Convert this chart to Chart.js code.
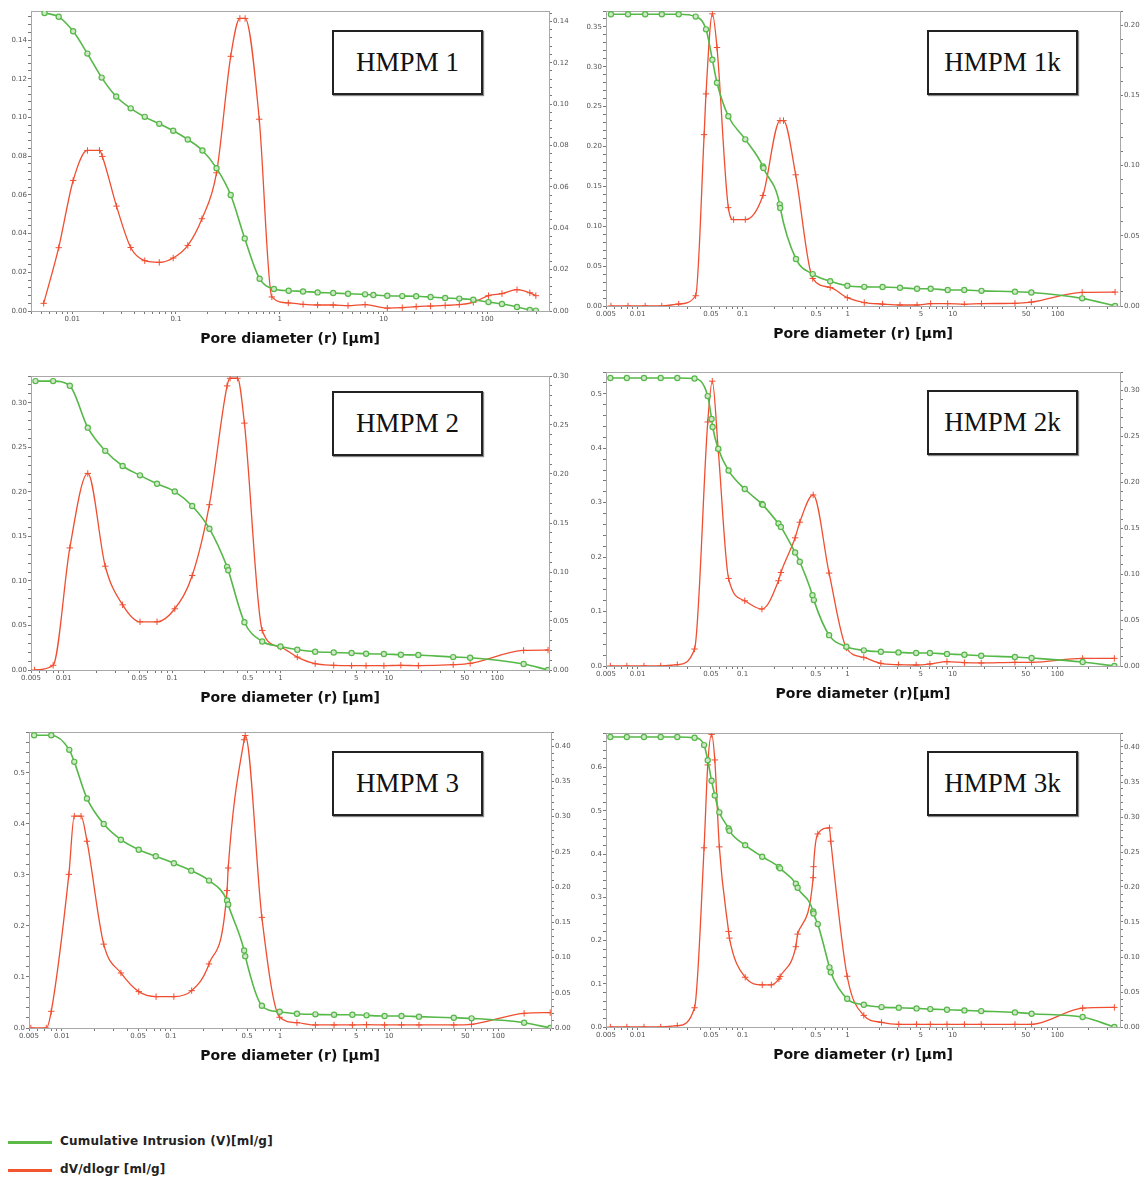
<!DOCTYPE html>
<html>
<head>
<meta charset="utf-8">
<script src="https://cdn.jsdelivr.net/npm/chart.js@4.4.1/dist/chart.umd.min.js"></script>
<style>
  body { margin: 0; background: #fff; width: 1142px; height: 1180px; overflow: hidden; position: relative; font-family: 'DejaVu Sans', sans-serif; }
  canvas { position: absolute; }
  .tag { position: absolute; box-sizing: border-box; width: 151px; height: 65px; border: 2px solid #222; box-shadow: 1px 1px 1px #888;
         font-family: 'Liberation Serif', serif; font-size: 27px; color: #111; background: #fff;
         display: flex; align-items: center; justify-content: center; }
  .lg-line { position: absolute; left: 8px; width: 44px; height: 3px; }
  .lg-text { position: absolute; left: 60px; font-size: 12px; letter-spacing: 0.2px; font-weight: bold; color: #222; }
</style>
</head>
<body>

<div class="tag" style="left:332px;top:30px">HMPM 1</div>
<div class="tag" style="left:927px;top:30px">HMPM 1k</div>
<div class="tag" style="left:332px;top:391px">HMPM 2</div>
<div class="tag" style="left:927px;top:390px">HMPM 2k</div>
<div class="tag" style="left:332px;top:751px">HMPM 3</div>
<div class="tag" style="left:927px;top:751px">HMPM 3k</div>

<div class="lg-line" style="top:1141px;background:#5cba47"></div>
<div class="lg-text" style="top:1134px">Cumulative Intrusion (V)[ml/g]</div>
<div class="lg-line" style="top:1169px;background:#f2552f"></div>
<div class="lg-text" style="top:1162px">dV/dlogr [ml/g]</div>

<script>
// Màu hai đường
const GREEN = '#56b848';
const RED = '#f04e30';

// Nhãn trục x (log)
const xLabelsFull = [0.005, 0.01, 0.05, 0.1, 0.5, 1, 5, 10, 50, 100];
const xLabelsDecades = [0.01, 0.1, 1, 10, 100];

// HMPM 1
const hmpm1CumX = [0.0054, 0.0074, 0.0102, 0.014, 0.0192, 0.0265, 0.0366, 0.05, 0.069, 0.094, 0.13, 0.18, 0.246, 0.337, 0.46, 0.64, 0.88, 1.22, 1.68, 2.32, 3.28, 4.56, 6.66, 8.0, 10.9, 15.2, 20.7, 28.5, 39.4, 53.9, 73.6, 103, 139, 194, 258, 295];
const hmpm1CumY = [0.154, 0.152, 0.1445, 0.133, 0.1206, 0.1108, 0.1047, 0.1003, 0.0967, 0.0931, 0.0886, 0.0829, 0.0738, 0.0599, 0.0375, 0.0167, 0.0114, 0.0105, 0.0101, 0.0096, 0.0093, 0.0089, 0.0086, 0.0083, 0.0079, 0.0077, 0.0076, 0.0072, 0.0067, 0.0064, 0.0058, 0.0046, 0.0036, 0.0021, 0.0005, 0.0002];
const hmpm1DvX = [0.0053, 0.0074, 0.0102, 0.014, 0.0183, 0.0195, 0.0267, 0.0366, 0.05, 0.069, 0.094, 0.13, 0.178, 0.246, 0.337, 0.413, 0.464, 0.635, 0.84, 1.21, 1.68, 2.32, 3.28, 4.56, 6.66, 10.9, 15.2, 20.7, 28.5, 39.4, 53.9, 73.6, 103, 139, 194, 258, 295];
const hmpm1DvY = [0.0037, 0.0306, 0.0631, 0.0776, 0.0776, 0.0747, 0.0507, 0.0307, 0.0243, 0.0235, 0.0256, 0.0317, 0.0446, 0.0668, 0.1231, 0.1414, 0.1414, 0.0927, 0.0068, 0.0039, 0.0032, 0.0029, 0.0029, 0.0026, 0.0031, 0.0014, 0.0016, 0.0021, 0.0024, 0.0027, 0.0031, 0.0042, 0.0074, 0.0084, 0.0103, 0.0088, 0.0074];

// HMPM 1k
const hmpm1kCumX = [0.00557, 0.0081, 0.0118, 0.017, 0.0246, 0.0357, 0.0448, 0.0515, 0.057, 0.0731, 0.106, 0.156, 0.158, 0.2255, 0.228, 0.322, 0.465, 0.682, 0.993, 1.44, 2.15, 3.15, 4.58, 6.17, 8.97, 12.9, 18.8, 39.2, 56.1, 171, 352];
const hmpm1kCumY = [0.366, 0.366, 0.366, 0.366, 0.366, 0.363, 0.347, 0.309, 0.280, 0.238, 0.209, 0.175, 0.173, 0.1275, 0.123, 0.059, 0.040, 0.031, 0.0254, 0.024, 0.0238, 0.0229, 0.0217, 0.0217, 0.020, 0.020, 0.019, 0.018, 0.017, 0.0096, 0.0];
const hmpm1kDvX = [0.00557, 0.0081, 0.0118, 0.017, 0.0246, 0.0357, 0.043, 0.0448, 0.0515, 0.057, 0.0731, 0.082, 0.106, 0.156, 0.227, 0.245, 0.320, 0.465, 0.682, 0.993, 1.44, 2.15, 3.15, 4.58, 6.17, 8.97, 12.9, 18.8, 39.2, 56.1, 171, 352];
const hmpm1kDvY = [0, 0, 0, 0, 0.0014, 0.0073, 0.122, 0.151, 0.208, 0.184, 0.070, 0.0615, 0.0615, 0.0787, 0.132, 0.132, 0.0934, 0.0196, 0.0132, 0.0059, 0.0024, 0.0014, 0.0007, 0.0007, 0.0017, 0.0017, 0.0012, 0.0017, 0.0019, 0.0028, 0.0097, 0.0099];

// HMPM 2
const hmpm2CumX = [0.0055, 0.008, 0.0114, 0.0167, 0.0242, 0.035, 0.0506, 0.0727, 0.106, 0.1535, 0.221, 0.322, 0.33, 0.465, 0.679, 1.0, 1.43, 2.09, 3.1, 4.53, 6.16, 9.0, 12.9, 18.7, 39.2, 56.2, 175, 294];
const hmpm2CumY = [0.3243, 0.3243, 0.319, 0.272, 0.246, 0.229, 0.2185, 0.209, 0.2003, 0.184, 0.1586, 0.1158, 0.112, 0.0536, 0.032, 0.0264, 0.0227, 0.0205, 0.0197, 0.019, 0.0182, 0.0179, 0.0171, 0.0168, 0.0145, 0.0138, 0.0067, 0.0];
const hmpm2DvX = [0.0054, 0.008, 0.0114, 0.0167, 0.0242, 0.035, 0.0506, 0.0727, 0.106, 0.1535, 0.221, 0.322, 0.343, 0.401, 0.465, 0.679, 1.0, 1.43, 2.09, 3.1, 4.53, 6.16, 9.0, 12.9, 18.7, 39.2, 56.2, 175, 294];
const hmpm2DvY = [0, 0.0048, 0.1246, 0.2006, 0.1059, 0.0665, 0.0492, 0.0492, 0.0625, 0.0964, 0.1687, 0.2899, 0.2977, 0.2977, 0.2519, 0.0404, 0.0234, 0.0132, 0.0064, 0.0048, 0.0044, 0.0044, 0.0044, 0.0048, 0.0044, 0.0054, 0.0068, 0.020, 0.0204];

// HMPM 2k
const hmpm2kCumX = [0.0055, 0.0079, 0.0115, 0.0166, 0.0239, 0.0349, 0.0466, 0.0507, 0.0519, 0.0587, 0.0736, 0.105, 0.153, 0.156, 0.22, 0.232, 0.317, 0.351, 0.464, 0.478, 0.668, 0.977, 1.43, 2.08, 3.06, 4.51, 6.1, 8.87, 13.0, 18.8, 39.4, 56.8, 174, 349];
const hmpm2kCumY = [0.529, 0.529, 0.529, 0.529, 0.529, 0.528, 0.4957, 0.4537, 0.439, 0.399, 0.359, 0.325, 0.2976, 0.296, 0.2616, 0.2555, 0.2085, 0.1915, 0.130, 0.121, 0.0567, 0.0354, 0.0287, 0.0262, 0.025, 0.0238, 0.0238, 0.022, 0.0207, 0.0189, 0.0165, 0.0146, 0.0073, 0.0];
const hmpm2kDvX = [0.0055, 0.0079, 0.0115, 0.0166, 0.0239, 0.0349, 0.0466, 0.0515, 0.0587, 0.0736, 0.105, 0.153, 0.22, 0.232, 0.317, 0.351, 0.471, 0.668, 0.977, 1.43, 2.08, 3.06, 4.51, 6.1, 8.87, 13.0, 18.8, 39.4, 56.8, 174, 349];
const hmpm2kDvY = [0, 0, 0, 0, 0.0014, 0.0185, 0.2656, 0.310, 0.2348, 0.0953, 0.071, 0.062, 0.0928, 0.1018, 0.1395, 0.1565, 0.1862, 0.1011, 0.0196, 0.0094, 0.0029, 0.0014, 0.0011, 0.0022, 0.0047, 0.0036, 0.0033, 0.004, 0.004, 0.0083, 0.0083];

// HMPM 3
const hmpm3CumX = [0.00557, 0.008, 0.0117, 0.013, 0.017, 0.0242, 0.0348, 0.0507, 0.0726, 0.1064, 0.1535, 0.2234, 0.327, 0.335, 0.469, 0.48, 0.682, 0.993, 1.43, 2.11, 3.13, 4.61, 6.21, 9.1, 13.0, 18.8, 39.2, 57, 173, 300];
const hmpm3CumY = [0.5737, 0.5737, 0.545, 0.5215, 0.4498, 0.3996, 0.369, 0.3494, 0.3364, 0.3227, 0.3083, 0.2888, 0.2497, 0.2419, 0.1519, 0.1408, 0.0437, 0.0319, 0.028, 0.0267, 0.0261, 0.0261, 0.0248, 0.0235, 0.0235, 0.0222, 0.0202, 0.0189, 0.0104, 0.0];
const hmpm3DvX = [0.0052, 0.0072, 0.008, 0.0116, 0.013, 0.015, 0.017, 0.0242, 0.0348, 0.0507, 0.0731, 0.1064, 0.155, 0.2234, 0.327, 0.335, 0.469, 0.48, 0.682, 0.993, 1.43, 2.11, 3.13, 4.61, 6.21, 9.1, 13.0, 18.8, 39.2, 57, 173, 300];
const hmpm3DvY = [0, 0, 0.0237, 0.218, 0.3006, 0.3006, 0.265, 0.119, 0.0781, 0.0516, 0.0445, 0.0445, 0.053, 0.0909, 0.195, 0.227, 0.409, 0.415, 0.157, 0.0152, 0.0076, 0.0043, 0.0043, 0.0043, 0.0047, 0.0043, 0.0043, 0.0043, 0.0043, 0.0052, 0.0208, 0.0218];

// HMPM 3k
const hmpm3kCumX = [0.0055, 0.0079, 0.0115, 0.0166, 0.0239, 0.0349, 0.043, 0.0466, 0.0507, 0.0544, 0.0601, 0.0736, 0.075, 0.106, 0.154, 0.222, 0.228, 0.322, 0.335, 0.471, 0.475, 0.521, 0.673, 0.693, 0.993, 1.43, 2.11, 3.08, 4.55, 6.15, 8.87, 13.0, 18.8, 39.4, 56.8, 174, 349];
const hmpm3kCumY = [0.6708, 0.6708, 0.6708, 0.6708, 0.6708, 0.669, 0.652, 0.617, 0.5695, 0.5357, 0.4965, 0.459, 0.454, 0.4206, 0.3937, 0.370, 0.367, 0.3315, 0.322, 0.267, 0.2625, 0.238, 0.138, 0.1266, 0.0652, 0.0514, 0.046, 0.0445, 0.043, 0.0414, 0.0399, 0.0384, 0.0368, 0.0338, 0.0307, 0.023, 0.0];
const hmpm3kDvX = [0.0055, 0.0079, 0.0115, 0.0166, 0.0239, 0.0349, 0.043, 0.0466, 0.0507, 0.0544, 0.0601, 0.0736, 0.075, 0.106, 0.154, 0.188, 0.222, 0.228, 0.322, 0.335, 0.471, 0.475, 0.521, 0.673, 0.693, 0.993, 1.43, 2.11, 3.08, 4.55, 6.15, 8.87, 13.0, 18.8, 39.4, 56.8, 174, 349];
const hmpm3kDvY = [0, 0, 0, 0, 0.0019, 0.0275, 0.256, 0.3744, 0.418, 0.3815, 0.2573, 0.1365, 0.127, 0.0711, 0.0602, 0.0602, 0.0687, 0.072, 0.1147, 0.1327, 0.2133, 0.229, 0.2758, 0.2844, 0.2654, 0.0725, 0.0166, 0.0066, 0.0038, 0.0038, 0.0038, 0.0038, 0.0038, 0.0038, 0.0038, 0.0038, 0.027, 0.028];

// Vị trí khung vẽ (l, r, t, b) và thang trục cho từng ô
const panels = [
  { box: [31, 549, 11, 311],   xMin: 0.004, xMax: 395, xLabels: xLabelsDecades, left: [0.155, 0.02, 2], right: [0.145, 0.02, 2], cum: [hmpm1CumX, hmpm1CumY], dv: [hmpm1DvX, hmpm1DvY], title: 'Pore diameter (r) [μm]' },
  { box: [606, 1120, 11, 306], xMin: 0.005, xMax: 392, xLabels: xLabelsFull, left: [0.37, 0.05, 2], right: [0.21, 0.05, 2], cum: [hmpm1kCumX, hmpm1kCumY], dv: [hmpm1kDvX, hmpm1kDvY], title: 'Pore diameter (r) [μm]' },
  { box: [31, 549, 376, 670],  xMin: 0.005, xMax: 300, xLabels: xLabelsFull, left: [0.33, 0.05, 2], right: [0.30, 0.05, 2], cum: [hmpm2CumX, hmpm2CumY], dv: [hmpm2DvX, hmpm2DvY], title: 'Pore diameter (r) [μm]' },
  { box: [606, 1120, 372, 666], xMin: 0.005, xMax: 395, xLabels: xLabelsFull, left: [0.54, 0.1, 1], right: [0.32, 0.05, 2], cum: [hmpm2kCumX, hmpm2kCumY], dv: [hmpm2kDvX, hmpm2kDvY], title: 'Pore diameter (r)[μm]' },
  { box: [29, 551, 732, 1028], xMin: 0.005, xMax: 305, xLabels: xLabelsFull, left: [0.58, 0.1, 1], right: [0.42, 0.05, 2], cum: [hmpm3CumX, hmpm3CumY], dv: [hmpm3DvX, hmpm3DvY], title: 'Pore diameter (r) [μm]' },
  { box: [606, 1120, 733, 1027], xMin: 0.005, xMax: 395, xLabels: xLabelsFull, left: [0.68, 0.1, 1], right: [0.42, 0.05, 2], cum: [hmpm3kCumX, hmpm3kCumY], dv: [hmpm3kDvX, hmpm3kDvY], title: 'Pore diameter (r) [μm]' }
];

const AXIS_W = 31, X_AXIS_H = 42, PAD_TOP = 6;

// Khung viền quanh vùng vẽ
const framePlugin = {
  id: 'frame',
  beforeDatasetsDraw(chart) {
    const { ctx, chartArea: a } = chart;
    ctx.save();
    ctx.strokeStyle = '#a8a8a8';
    ctx.lineWidth = 1;
    ctx.strokeRect(a.left + 0.5, a.top + 0.5, a.right - a.left, a.bottom - a.top);
    ctx.restore();
  }
};

function toPoints(xs, ys) {
  return xs.map((x, i) => ({ x: x, y: ys[i] }));
}

// Vạch chia log: 1..9 x 10^n
function logTicks(min, max) {
  const ticks = [];
  for (let n = Math.floor(Math.log10(min)); n <= Math.ceil(Math.log10(max)); n++) {
    for (let k = 1; k <= 9; k++) {
      const v = Number((k * Math.pow(10, n)).toPrecision(3));
      if (v >= min && v <= max) ticks.push({ value: v });
    }
  }
  return ticks;
}

function linTicks(max, step) {
  const minor = step / 5;
  const ticks = [];
  for (let i = 0; i * minor <= max + 1e-9; i++) ticks.push({ value: +(i * minor).toFixed(5) });
  return ticks;
}

function isMultiple(v, step) {
  return Math.abs(v / step - Math.round(v / step)) < 1e-6;
}

function yScale(position, cfg) {
  const [max, step, dec] = cfg;
  return {
    type: 'linear',
    position: position,
    min: 0,
    max: max,
    afterFit: s => { s.width = AXIS_W; },
    afterBuildTicks: s => { s.ticks = linTicks(max, step); },
    border: { display: true, color: '#888' },
    grid: { display: true, drawOnChartArea: false, drawTicks: true, tickLength: 3, color: '#777' },
    ticks: {
      autoSkip: false,
      padding: 1,
      color: '#555',
      font: { family: 'DejaVu Sans', size: 7 },
      callback: v => isMultiple(v, step) ? v.toFixed(dec) : ''
    }
  };
}

function makePanel(p, idx) {
  const [l, r, t, b] = p.box;
  const canvas = document.createElement('canvas');
  canvas.id = 'panel' + idx;
  canvas.width = r - l + 2 * AXIS_W;
  canvas.height = b - t + PAD_TOP + X_AXIS_H;
  canvas.style.left = (l - AXIS_W) + 'px';
  canvas.style.top = (t - PAD_TOP) + 'px';
  document.body.appendChild(canvas);

  new Chart(canvas.getContext('2d'), {
    type: 'line',
    data: {
      datasets: [
        {
          label: 'Cumulative Intrusion (V)[ml/g]',
          data: toPoints(p.cum[0], p.cum[1]),
          yAxisID: 'y',
          borderColor: GREEN,
          borderWidth: 1.6,
          pointStyle: 'circle',
          pointRadius: 2.6,
          pointBorderWidth: 1.2,
          pointBorderColor: GREEN,
          pointBackgroundColor: '#cfe8c8',
          cubicInterpolationMode: 'monotone',
          fill: false
        },
        {
          label: 'dV/dlogr [ml/g]',
          data: toPoints(p.dv[0], p.dv[1]),
          yAxisID: 'y1',
          borderColor: RED,
          borderWidth: 1.3,
          pointStyle: 'cross',
          pointRadius: 3.2,
          pointBorderWidth: 1,
          pointBorderColor: RED,
          cubicInterpolationMode: 'monotone',
          fill: false
        }
      ]
    },
    options: {
      responsive: false,
      animation: false,
      devicePixelRatio: 1,
      layout: { padding: { top: PAD_TOP, left: 0, right: 0, bottom: 0 } },
      plugins: { legend: { display: false }, tooltip: { enabled: false } },
      scales: {
        x: {
          type: 'logarithmic',
          min: p.xMin,
          max: p.xMax,
          afterFit: s => { s.height = X_AXIS_H; },
          afterBuildTicks: s => { s.ticks = logTicks(p.xMin, p.xMax); },
          border: { display: true, color: '#888' },
          grid: { display: true, drawOnChartArea: false, drawTicks: true, tickLength: 3, color: '#777' },
          ticks: {
            autoSkip: false,
            maxRotation: 0,
            padding: 1,
            color: '#555',
            font: { family: 'DejaVu Sans', size: 7 },
            callback: v => p.xLabels.some(q => Math.abs(q - v) / q < 1e-6) ? String(v) : ''
          },
          title: {
            display: true,
            text: p.title,
            color: '#111',
            font: { family: 'DejaVu Sans', size: 14, weight: 'bold' },
            padding: { top: 0, bottom: 5 }
          }
        },
        y: yScale('left', p.left),
        y1: yScale('right', p.right)
      }
    },
    plugins: [framePlugin]
  });
}

panels.forEach(makePanel);
</script>
</body>
</html>
